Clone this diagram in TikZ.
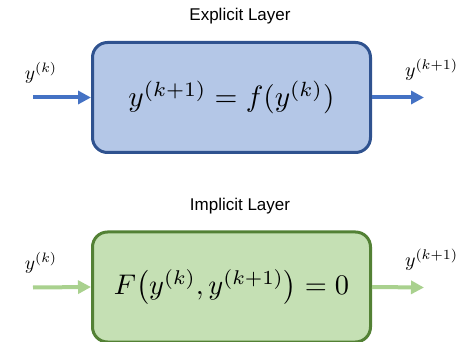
\documentclass[tikz,border=0pt]{standalone}
\usepackage{graphicx}
\usepackage{fontspec}
\setmainfont{Liberation Sans}
\usetikzlibrary{arrows.meta}

\definecolor{bluefill}{HTML}{B4C7E7}
\definecolor{blueline}{HTML}{2F528F}
\definecolor{bluearrow}{HTML}{4472C4}
\definecolor{greenfill}{HTML}{C5E0B4}
\definecolor{greenline}{HTML}{538135}
\definecolor{greenarrow}{HTML}{A9D18E}

\tikzset{
  layerbox/.style={draw, line width=3pt, rounded corners=15pt,
    minimum width=278pt, minimum height=110pt, inner sep=0pt},
  flow/.style={line width=4pt, -{Triangle[length=13pt,width=13pt]}},
  title/.style={font=\fontsize{17}{20}\selectfont},
  signal/.style={inner sep=0pt},
}

\begin{document}
\begin{tikzpicture}[x=1pt,y=-1pt]
  \useasboundingbox (0,0) rectangle (469,342);

  % explicit layer
  \node[title] (t1) at (240,16) {Explicit Layer};
  \node[layerbox, fill=bluefill, draw=blueline] (ex) at (231.5,97.5)
    {\resizebox{206pt}{!}{$y^{(k+1)} = f(y^{(k)})$}};
  \coordinate (exin) at (33,97.5);
  \coordinate (exout) at (424,97.5);
  \draw[flow, bluearrow] (exin) -- (ex.west);
  \draw[flow, bluearrow] (ex.east) -- (exout);
  \node[signal] (exl) at (41,73) {\resizebox{32pt}{!}{$y^{(k)}$}};
  \node[signal] (exr) at (431.5,70) {\resizebox{53pt}{!}{$y^{(k+1)}$}};

  % implicit layer
  \node[title] (t2) at (240,206) {Implicit Layer};
  \node[layerbox, fill=greenfill, draw=greenline] (im) at (231.5,287)
    {\resizebox{235pt}{!}{$F\bigl(y^{(k)}, y^{(k+1)}\bigr) = 0$}};
  \coordinate (imin) at (33,287.5);
  \coordinate (imout) at (424,287.5);
  \draw[flow, greenarrow] (imin) -- (im.west);
  \draw[flow, greenarrow] (im.east) -- (imout);
  \node[signal] (iml) at (41,263) {\resizebox{32pt}{!}{$y^{(k)}$}};
  \node[signal] (imr) at (431.5,260) {\resizebox{53pt}{!}{$y^{(k+1)}$}};
\end{tikzpicture}
\end{document}
